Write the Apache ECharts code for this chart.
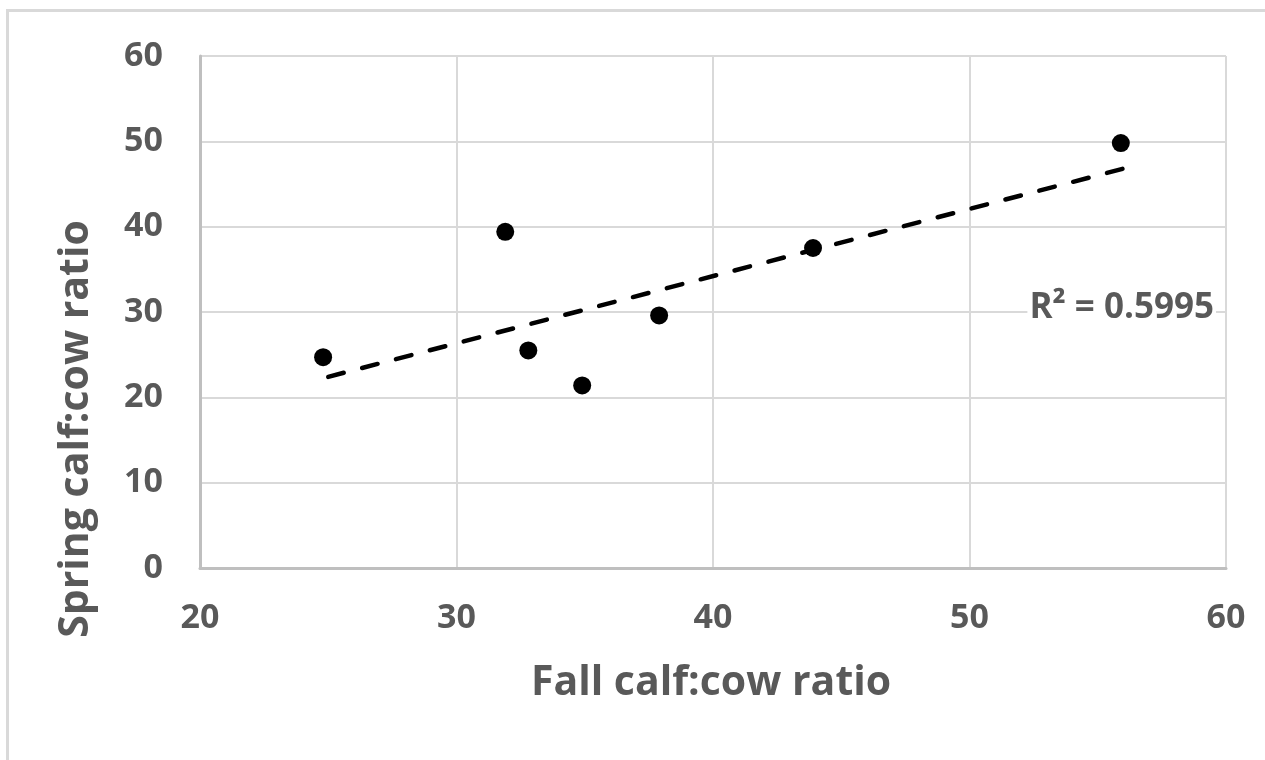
<!DOCTYPE html>
<html>
<head>
<meta charset="utf-8">
<title>Spring vs fall calf:cow ratio</title>
<script src="https://cdn.jsdelivr.net/npm/echarts/dist/echarts.min.js"></script>
<style>
  html, body { margin: 0; padding: 0; background: #fff; }
  #chart { width: 1265px; height: 760px; }
</style>
</head>
<body>
<div id="chart"></div>
<script>
// values
const fallRatio = [24.8, 31.9, 32.8, 34.9, 37.9, 43.9, 55.9]
const springRatio = [24.7, 39.4, 25.5, 21.4, 29.6, 37.5, 49.8]
// dashed trend line end points
const trendFall = [25, 56]
const trendSpring = [22.4, 46.8]
const rSquared = '0.5995'
const xRange = [20, 60]
const yRange = [0, 60]
const tickStep = 10

const grey = '#595959'
const font = '"Open Sans", "Noto Sans", sans-serif'

const chart = echarts.init(document.getElementById('chart'))

chart.setOption({
  animation: false,
  backgroundColor: '#fff',
  grid: {
    left: 200,
    right: 39,
    top: 56,
    bottom: 192
  },
  xAxis: {
    type: 'value',
    min: xRange[0],
    max: xRange[1],
    interval: tickStep,
    axisLine: { show: true, lineStyle: { color: '#bfbfbf', width: 3 } },
    axisTick: { show: false },
    axisLabel: {
      color: grey,
      fontSize: 34,
      fontWeight: 'bold',
      fontFamily: font,
      margin: 33
    },
    splitLine: { show: true, lineStyle: { color: '#d9d9d9', width: 2 } }
  },
  yAxis: {
    type: 'value',
    min: yRange[0],
    max: yRange[1],
    interval: tickStep,
    axisLine: { show: true, lineStyle: { color: '#bfbfbf', width: 3 } },
    axisTick: { show: false },
    axisLabel: {
      color: grey,
      fontSize: 34,
      fontWeight: 'bold',
      fontFamily: font,
      margin: 37,
      padding: [0, 0, 6, 0]
    },
    splitLine: { show: true, lineStyle: { color: '#d9d9d9', width: 2 } }
  },
  graphic: [
    {
      type: 'rect',
      silent: true,
      shape: { x: 7.5, y: 10.5, width: 1400, height: 900 },
      style: { fill: 'none', stroke: '#d9d9d9', lineWidth: 3 },
      z: -10
    },
    {
      type: 'text',
      x: 711,
      y: 683,
      style: {
        text: 'Fall calf:cow ratio',
        fill: grey,
        font: 'bold 41px ' + font,
        align: 'center',
        verticalAlign: 'middle'
      }
    },
    {
      type: 'text',
      x: 76,
      y: 429,
      rotation: Math.PI / 2,
      style: {
        text: 'Spring calf:cow ratio',
        fill: grey,
        font: 'bold 41px ' + font,
        align: 'center',
        verticalAlign: 'middle'
      }
    },
    {
      type: 'text',
      x: 1216,
      y: 308,
      z: 10,
      style: {
        text: 'R\u00b2 = ' + rSquared,
        fill: grey,
        font: 'bold 35px ' + font,
        align: 'right',
        verticalAlign: 'middle',
        backgroundColor: '#fff',
        padding: [0, 2, 0, 2]
      }
    }
  ],
  series: [
    {
      type: 'line',
      data: trendFall.map((x, i) => [x, trendSpring[i]]),
      symbol: 'none',
      silent: true,
      lineStyle: {
        color: '#000',
        width: 4.5,
        type: [16, 19],
        cap: 'round'
      },
      z: 3
    },
    {
      type: 'scatter',
      data: fallRatio.map((x, i) => [x, springRatio[i]]),
      symbol: 'circle',
      symbolSize: 18,
      itemStyle: { color: '#000', opacity: 1 },
      z: 4
    }
  ]
})
</script>
</body>
</html>
